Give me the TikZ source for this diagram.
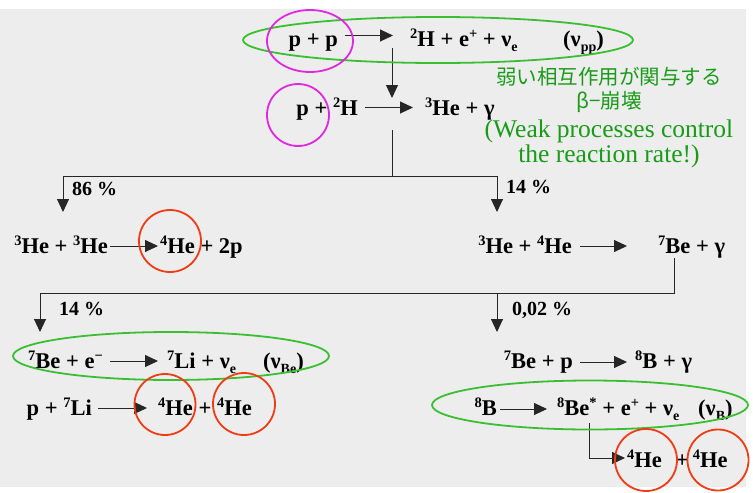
\documentclass[tikz,border=0pt]{standalone}
\usepackage{fontspec}
\setmainfont{Liberation Serif}
\newfontfamily\jpfont{Noto Sans CJK JP}
\usetikzlibrary{arrows.meta}
\definecolor{bggray}{RGB}{237,237,237}
\definecolor{ringgreen}{RGB}{60,190,50}
\definecolor{ringred}{RGB}{240,60,20}
\definecolor{ringmag}{RGB}{225,40,225}
\definecolor{notegreen}{RGB}{25,155,25}
% raised mass number / lowered neutrino flavour
\newcommand\iso[1]{\raisebox{8pt}{\fontsize{14.5}{14.5}\selectfont #1}}
\newcommand\lo[1]{\raisebox{-5pt}{\fontsize{14}{14}\selectfont #1}}
\newcommand\chemfont{\bfseries\fontsize{22.5}{26}\selectfont}
\begin{document}
\begin{tikzpicture}[x=1pt,y=-1pt,
  chem/.style={font=\chemfont, inner sep=0pt, text=black},
  pct/.style={font=\bfseries\fontsize{20}{24}\selectfont, inner sep=0pt, text=black, anchor=base west},
  note/.style={inner sep=0pt, text=notegreen, anchor=base},
  rx/.style={-{Triangle[length=13pt,width=12pt]}, line width=1pt, draw=black!85},
  gring/.style={draw=ringgreen, line width=1.8pt},
  rring/.style={draw=ringred, line width=1.8pt},
  mring/.style={draw=ringmag, line width=1.8pt}]
\useasboundingbox (0,0) rectangle (753,493);
\fill[bggray] (0,9) rectangle (746,487);

% p + p -> 2H + e+ + nu
\node[chem,anchor=base east] (pp) at (338,46.5) {p + p};
\node[chem,anchor=base west] (dH) at (410,46.5) {\iso{2}H + e\iso{+} + ν\lo{e}};
\node[chem,anchor=base west] (nupp) at (563,46.5) {(ν\lo{pp})};
\draw[rx] ([xshift=7pt,yshift=11pt]pp.base east) -- ([xshift=-17pt,yshift=11pt]dH.base west);

\coordinate (j1) at (392,48);
\coordinate (j2) at (392,98);
\draw[rx] (j1) -- (j2);

% p + 2H -> 3He + gamma
\node[chem,anchor=base east] (pD) at (358,115) {p + \iso{2}H};
\node[chem,anchor=base west] (He3) at (425,115) {\iso{3}He + γ};
\draw[rx] ([xshift=7pt,yshift=7.5pt]pD.base east) -- ([xshift=-12pt,yshift=7.5pt]He3.base west);

% first branching
\coordinate (b0) at (392,130);
\coordinate (bL) at (63,176);
\coordinate (bR) at (497,176);
\coordinate (tL) at (63,212);
\coordinate (tR) at (497,212);
\draw[rx] (b0) |- (bL) -- (tL);
\draw[rx] (b0) |- (bR) -- (tR);
\node[pct] (p86) at (72,195) {86 \%};
\node[pct] (p14a) at (506,193) {14 \%};

% ppI and 3He + 4He
\node[chem,anchor=base east] (HeHe) at (108,253) {\iso{3}He + \iso{3}He};
\node[chem,anchor=base west] (He4p) at (160,253) {\iso{4}He + 2p};
\draw[rx] ([xshift=2pt,yshift=7pt]HeHe.base east) -- ([xshift=-2pt,yshift=7pt]He4p.base west);
\node[chem,anchor=base east] (He34) at (572,253) {\iso{3}He + \iso{4}He};
\node[chem,anchor=base west] (Be7) at (658,253) {\iso{7}Be + γ};
\draw[rx] ([xshift=8pt,yshift=7pt]He34.base east) -- ([xshift=-31pt,yshift=7pt]Be7.base west);

% second branching
\coordinate (c0) at (674,258);
\coordinate (cL) at (40,293);
\coordinate (cR) at (497,293);
\coordinate (uL) at (40,332);
\coordinate (uR) at (497,332);
\draw[rx] (c0) |- (cL) -- (uL);
\draw[rx] (c0) |- (cR) -- (uR);
\node[pct] (p14b) at (59,315) {14 \%};
\node[pct] (p002) at (512,315) {0,02 \%};

% ppII
\node[chem,anchor=base east] (Bee) at (103,368) {\iso{7}Be + e\iso{−}};
\node[chem,anchor=base west] (Li7) at (167,368) {\iso{7}Li + ν\lo{e}};
\node[chem,anchor=base west] (nube) at (263,368) {(ν\lo{Be})};
\draw[rx] ([xshift=7pt,yshift=7pt]Bee.base east) -- ([xshift=-9pt,yshift=7pt]Li7.base west);
\node[chem,anchor=base east] (pLi) at (92,415) {p + \iso{7}Li};
\node[chem,anchor=base west] (HeA) at (158,415) {\iso{4}He + \iso{4}He};
\draw[rx] ([xshift=6pt,yshift=7pt]pLi.base east) -- ([xshift=-11pt,yshift=7pt]HeA.base west);

% ppIII
\node[chem,anchor=base east] (Bep) at (573,368) {\iso{7}Be + p};
\node[chem,anchor=base west] (B8) at (635,368) {\iso{8}B + γ};
\draw[rx] ([xshift=7pt,yshift=6pt]Bep.base east) -- ([xshift=-8pt,yshift=6pt]B8.base west);
\node[chem,anchor=base east] (B8d) at (497,415) {\iso{8}B};
\node[chem,anchor=base west] (Be8) at (557,415) {\iso{8}Be\iso{*} + e\iso{+} + ν\lo{e}};
\node[chem,anchor=base west] (nub) at (698,415) {(ν\lo{B})};
\draw[rx] ([xshift=3pt,yshift=6pt]B8d.base east) -- ([xshift=-10pt,yshift=6pt]Be8.base west);
\node[chem,anchor=base west] (HeB) at (627,467) {\iso{4}He\hspace{14pt}+\hspace{4pt}\iso{4}He};
\coordinate (d0) at (589,423);
\draw[rx] (d0) |- ([xshift=-2pt,yshift=9pt]HeB.base west);

% note on the weak processes
\node[note] (jp1) at (609,84) {\jpfont\fontsize{20.5}{24}\selectfont 弱い相互作用が関与する};
\node[note] (jp2) at (609,108) {\jpfont\fontsize{20.5}{24}\selectfont β−崩壊};
\node[note,font=\fontsize{25.5}{30}\selectfont] (en1) at (609,137) {(Weak processes control};
\node[note,font=\fontsize{25.5}{30}\selectfont] (en2) at (609,162) {the reaction rate!)};

% highlight rings
\draw[gring] (438,40) ellipse[x radius=195pt, y radius=23pt];
\draw[gring] (171,356) ellipse[x radius=158pt, y radius=24pt];
\draw[gring] (590,405) ellipse[x radius=158pt, y radius=24.5pt];
\draw[mring] (310,41) ellipse[x radius=43pt, y radius=31pt];
\draw[mring] (298,115) circle[radius=31pt];
\draw[rring] (170,241) circle[radius=31pt];
\draw[rring] (165,404.5) circle[radius=30.5pt];
\draw[rring] (244,404) circle[radius=31pt];
\draw[rring] (646,460) circle[radius=31pt];
\draw[rring] (718,460) circle[radius=30.5pt];
\end{tikzpicture}
\end{document}
